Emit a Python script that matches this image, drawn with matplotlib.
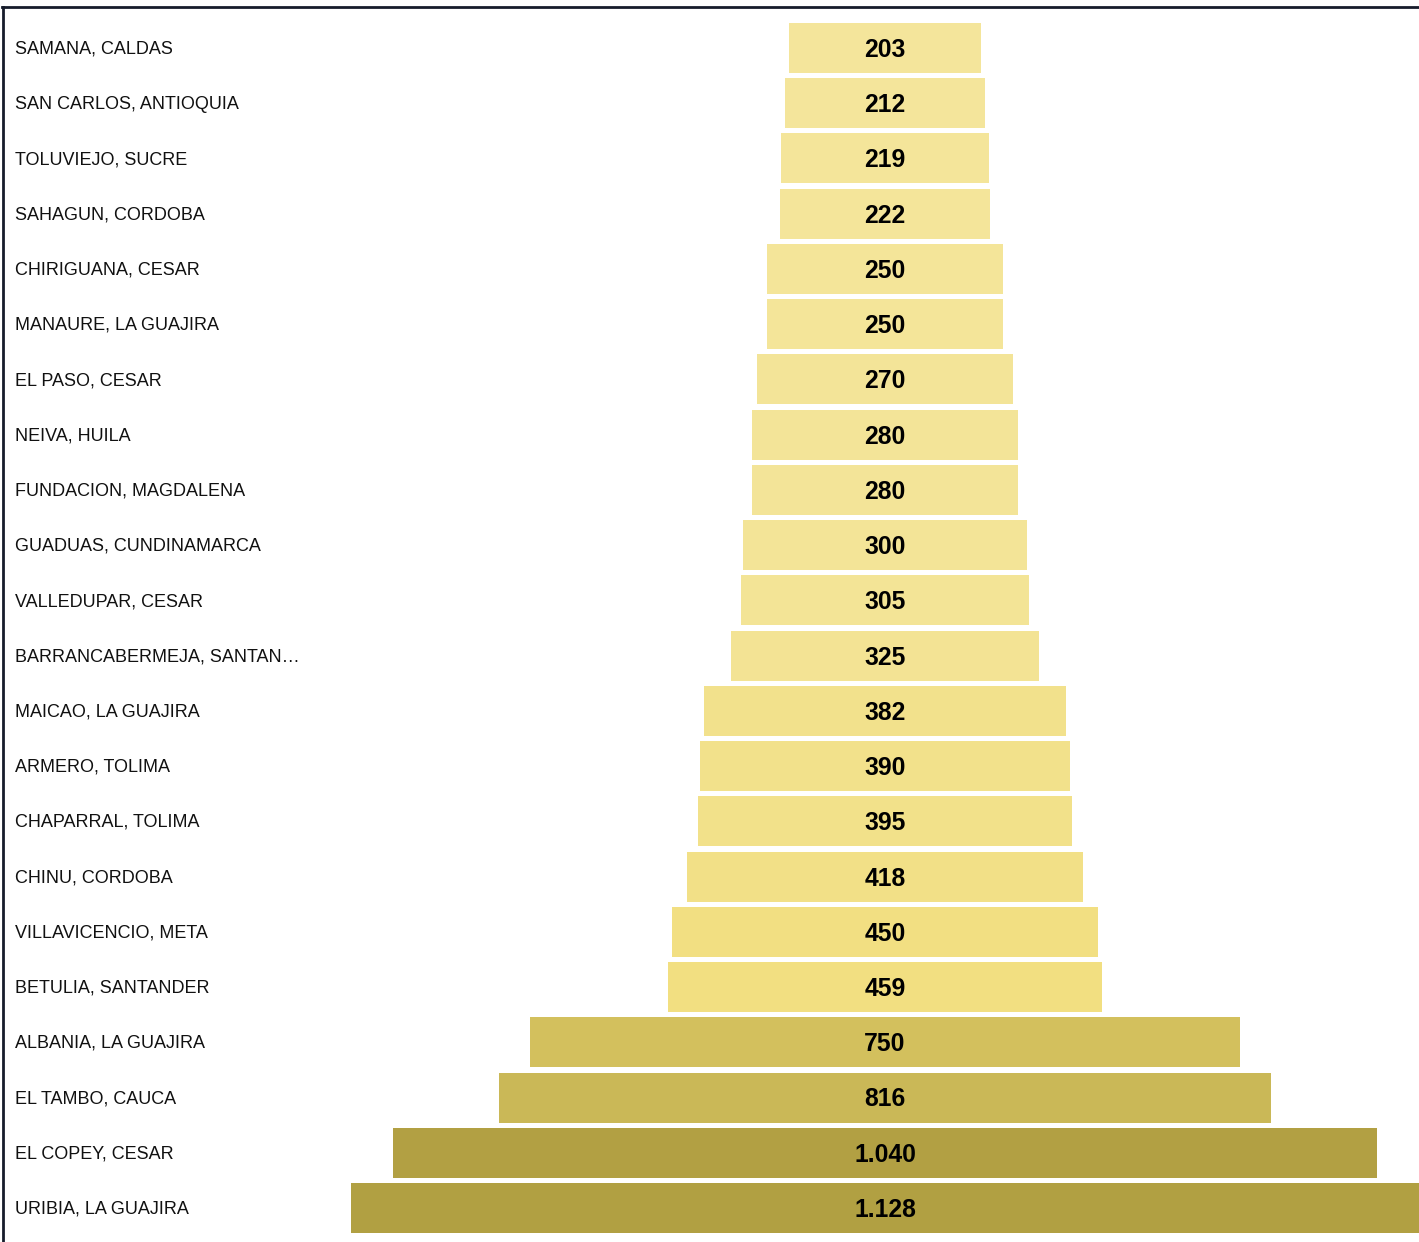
import matplotlib
matplotlib.use("Agg")
import matplotlib.pyplot as plt
from matplotlib.colors import LinearSegmentedColormap, Normalize
from matplotlib.lines import Line2D

categories = [
    "SAMANA, CALDAS", "SAN CARLOS, ANTIOQUIA", "TOLUVIEJO, SUCRE", "SAHAGUN, CORDOBA",
    "CHIRIGUANA, CESAR", "MANAURE, LA GUAJIRA", "EL PASO, CESAR", "NEIVA, HUILA",
    "FUNDACION, MAGDALENA", "GUADUAS, CUNDINAMARCA", "VALLEDUPAR, CESAR",
    "BARRANCABERMEJA, SANTAN…", "MAICAO, LA GUAJIRA", "ARMERO, TOLIMA",
    "CHAPARRAL, TOLIMA", "CHINU, CORDOBA", "VILLAVICENCIO, META", "BETULIA, SANTANDER",
    "ALBANIA, LA GUAJIRA", "EL TAMBO, CAUCA", "EL COPEY, CESAR", "URIBIA, LA GUAJIRA",
]
values = [203, 212, 219, 222, 250, 250, 270, 280, 280, 300, 305, 325,
          382, 390, 395, 418, 450, 459, 750, 816, 1040, 1128]
value_labels = ["203", "212", "219", "222", "250", "250", "270", "280", "280", "300",
                "305", "325", "382", "390", "395", "418", "450", "459", "750", "816",
                "1.040", "1.128"]

# colour scale by value
vmin, vmax = 203, 1128
stops = [(203, "#f4e59b"), (300, "#f3e497"), (459, "#f2df81"), (750, "#d3c05d"),
         (816, "#cab857"), (1040, "#b2a043"), (1128, "#b1a042")]
cmap = LinearSegmentedColormap.from_list(
    "funnel", [((v - vmin) / (vmax - vmin), c) for v, c in stops])
norm = Normalize(vmin, vmax)

W, H = 1419, 1242
fig = plt.figure(figsize=(W / 100, H / 100), dpi=100)
fig.patch.set_facecolor("white")
ax = fig.add_axes([0, 0, 1, 1])
ax.set_axis_off()

px_per_unit = 1068 / 1128.0
cx = 885
pitch = 55.24
y0 = 48
ax.set_xlim(-cx / px_per_unit, (W - cx) / px_per_unit)
ax.set_ylim((H - y0) / pitch, -y0 / pitch)

ys = list(range(len(values)))
ax.barh(ys, values, left=[-v / 2 for v in values], height=0.905,
        color=[cmap(norm(v)) for v in values], edgecolor="none")

for y, lab in zip(ys, value_labels):
    ax.text(0, y + 0.035, lab, ha="center", va="center", fontsize=17.8, fontweight="bold",
            family="Liberation Sans", color="black")

xl = ax.get_xlim()[0] + 15 / px_per_unit
for y, cat in zip(ys, categories):
    ax.text(xl, y + 0.02, cat, ha="left", va="center", fontsize=13,
            family="Liberation Sans", color="#111111")

# frame lines (top and left)
fig.add_artist(Line2D([2 / W, 1], [1 - 7 / H, 1 - 7 / H], color="#161c2b", lw=2.0,
                      transform=fig.transFigure))
fig.add_artist(Line2D([3 / W, 3 / W], [0, 1 - 7 / H], color="#161c2b", lw=2.0,
                      transform=fig.transFigure))

fig.savefig("out.png", dpi=100, facecolor="white")
